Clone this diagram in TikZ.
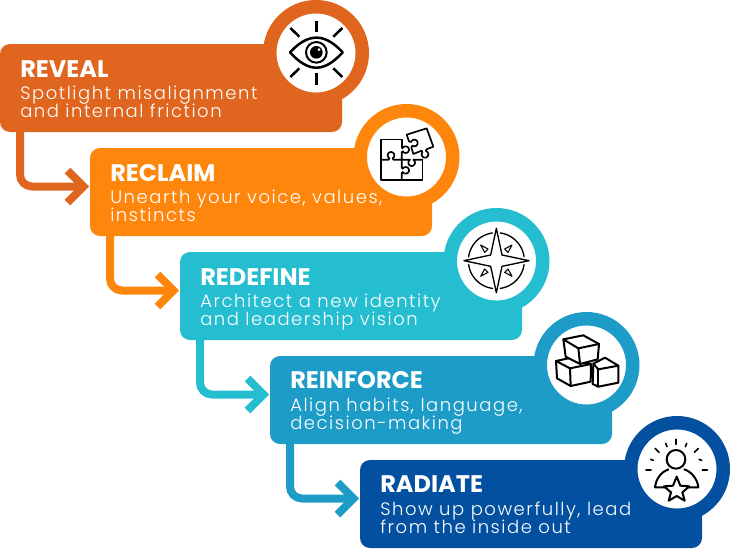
\documentclass[tikz,border=0pt]{standalone}
\usepackage{fontspec}
\usetikzlibrary{arrows.meta}
\setmainfont{Poppins}
\newfontfamily\bodyf[LetterSpace=8.5]{Poppins Light}
\definecolor{c1}{HTML}{E0651E}
\definecolor{c2}{HTML}{FF860D}
\definecolor{c3}{HTML}{25BDD0}
\definecolor{c4}{HTML}{1D9CC8}
\definecolor{c5}{HTML}{0450A0}
\newcommand{\bodysetup}{\bodyf\fontsize{13.5pt}{13.4pt}\selectfont\setlength{\lineskiplimit}{-20pt}}
\tikzset{
  stepbox/.style={fill=#1,rounded corners=7.5pt,minimum width=256.5pt,minimum height=66pt,inner sep=0pt,outer sep=0pt,anchor=north west},
  ringnode/.style={circle,fill=white,draw=#1,line width=10.1pt,minimum size=69.4pt,inner sep=0pt,outer sep=0pt},
  titlenode/.style={anchor=base west,inner sep=0pt,text=white,font=\fontsize{18pt}{20pt}\bfseries},
  bodynode/.style={anchor=north west,inner sep=0pt,text=white,align=left,font=\bodysetup},
  flow/.style={draw=#1,line width=6pt,rounded corners=9pt},
  chev/.style={draw=#1,line width=6pt},
  icon/.style={draw=black,line width=1.5pt,line cap=round,line join=round},
  eyeicon/.style={draw=black,line width=1.9pt,line cap=butt,line join=round},
  puzzle/.style={draw=black,line width=1.25pt,line cap=round,line join=round},
  thinicon/.style={draw=black,line width=1pt,line cap=round,line join=round},
  zoomed/.style={shift={(#1)},x=.25pt,y=-.25pt},
  knob/.style={samples=16,smooth}
}
\begin{document}
\begin{tikzpicture}[x=.75pt,y=-.75pt]
\useasboundingbox (0,0) rectangle (730,550);
% boxes
\node[stepbox=c1] (b1) at (0,44) {};
\node[stepbox=c2] (b2) at (90,148) {};
\node[stepbox=c3] (b3) at (180,252) {};
\node[stepbox=c4] (b4) at (270,356) {};
\node[stepbox=c5] (b5) at (360,460) {};
% connectors
\coordinate (a1s) at (20,131);\coordinate (a1e) at (83.5,186.5);
\coordinate (a2s) at (110,235);\coordinate (a2e) at (173.5,290.5);
\coordinate (a3s) at (200,339);\coordinate (a3e) at (263.5,394.5);
\coordinate (a4s) at (290,443);\coordinate (a4e) at (353.5,498.5);
\foreach \s/\e/\c in {a1s/a1e/c1,a2s/a2e/c2,a3s/a3e/c3,a4s/a4e/c4}{
  \draw[flow=\c] (\s) |- (\e);
  \draw[chev=\c] ([shift={(-12pt,-12pt)}]\e) -- (\e) -- ([shift={(-12pt,12pt)}]\e);
}
% rings
\node[ringnode=c1] (r1) at (316,53) {};
\node[ringnode=c2] (r2) at (406.5,157) {};
\node[ringnode=c3] (r3) at (496.5,261) {};
\node[ringnode=c4] (r4) at (586.5,365) {};
\node[ringnode=c5] (r5) at (677,469) {};
% text
\node[titlenode] (t1) at (20,77) {REVEAL};
\node[bodynode] (d1) at (20,86) {Spotlight misalignment\\and internal friction};
\node[titlenode] (t2) at (110,181) {RECLAIM};
\node[bodynode] (d2) at (110,190) {Unearth your voice, values,\\instincts};
\node[titlenode] (t3) at (200,285) {REDEFINE};
\node[bodynode] (d3) at (200,294) {Architect a new identity\\and leadership vision};
\node[titlenode] (t4) at (290,388) {REINFORCE};
\node[bodynode] (d4) at (290,398) {Align habits, language,\\decision-making};
\node[titlenode] (t5) at (380,492) {RADIATE};
\node[bodynode] (d5) at (380,502) {Show up powerfully, lead\\from the inside out};
% eye
\begin{scope}[zoomed={250,0}]
  \draw[eyeicon] (120,157) .. controls (150,125) and (175,113) .. (199,113) .. controls (223,113) and (248,125) .. (278,157) .. controls (248,190) and (223,203) .. (199,203) .. controls (175,203) and (150,190) .. (120,157) -- cycle;
  \draw[eyeicon,line width=1.5pt] (199,157) circle (31);
  \fill (199,157) circle (19);
  \fill[white] (207,149) circle (4.5);
  \foreach \a/\b/\c/\d in {199/63/199/97,199/218/199/254,121/84/148/110,277/84/250/110,121/231/148/205,277/231/250/205}
    \draw[eyeicon] (\a,\b) -- (\c,\d);
\end{scope}
% puzzle
\begin{scope}[zoomed={375,122}]
  \draw[puzzle] (80,78) -- (80,52) -- (18,52) -- (18,173) -- (142,173) -- (142,113);
  \draw[puzzle] (80,75) -- plot[knob,domain=-150:150] ({92+10*cos(\x)},{83+10*sin(\x)}) -- (80,91) -- (80,137) -- plot[knob,domain=-150:150] ({92+10*cos(\x)},{145+10*sin(\x)}) -- (80,153) -- (80,173);
  \draw[puzzle] (18,113) -- (41,113) -- plot[knob,domain=120:420] ({48+10*cos(\x)},{100+10*sin(\x)}) -- (55,113) -- (103,113) -- plot[knob,domain=240:-60] ({110+10*cos(\x)},{122+10*sin(\x)}) -- (117,113) -- (142,113);
  \draw[puzzle] (115,96) -- (109,76) -- plot[knob,domain=126:-164] ({118+10*cos(\x)},{63+10*sin(\x)}) -- (102,58) -- (95,38) -- (155,19) -- (175,74) -- (155,81.5) -- plot[knob,domain=-75:215] ({150+10*cos(\x)},{97+10*sin(\x)}) -- (140,86) -- (115,96);
\end{scope}
% compass
\begin{scope}[zoomed={430,210}]
  \foreach \t in {0,90,180,270}{
    \pgfmathsetmacro{\ta}{\t+8}
    \pgfmathsetmacro{\tb}{\t+82}
    \draw[thinicon] plot[samples=20,smooth,domain=\ta:\tb] ({199+84*cos(\x)},{152+84*sin(\x)});
    \begin{scope}[shift={(199,152)},rotate=\t]
      \draw[thinicon,line width=.8pt] (47,-47) -- (35,-25) -- (25,-35) -- cycle;
    \end{scope}
  }
  \draw[thinicon,fill=white] (199,55) -- (216,135) -- (297,152) -- (216,169) -- (199,248) -- (182,169) -- (102,152) -- (182,135) -- cycle;
\end{scope}
% cubes
\begin{scope}[zoomed={430,210}]
  \draw[icon] (378,453) -- (415,445) -- (483,462) -- (420,475) -- cycle;
  \draw[icon] (378,453) -- (381,505) -- (422,528) -- (482,515) -- (483,462);
  \draw[icon] (420,475) -- (422,528);
  \draw[icon] (490,461) -- (525,443) -- (565,467) -- (565,518) -- (505,530) -- (488,522) -- cycle;
  \draw[icon] (490,461) -- (505,478) -- (565,467);
  \draw[icon] (505,478) -- (505,530);
  \draw[icon,fill=white] (400,388) -- (460,376) -- (507,402) -- (503,448) -- (450,462) -- (407,440) -- cycle;
  \draw[icon] (400,388) -- (445,415) -- (507,402);
  \draw[icon] (445,415) -- (450,462);
\end{scope}
% person with star
\begin{scope}[zoomed={620,410}]
  \draw[icon] (168,148) circle (28);
  \draw[icon] (145,178) .. controls (125,185) and (108,205) .. (105,232) -- (135,232);
  \draw[icon] (193,178) .. controls (213,185) and (232,205) .. (235,232) -- (205,232);
  \draw[icon,fill=white] (170,200) -- (181,227) -- (208,229) -- (187,247) -- (194,272) -- (170,258) -- (146,272) -- (153,247) -- (132,229) -- (159,227) -- cycle;
  \foreach \a/\b/\c/\d in {168/88/168/103,137/100/141/110,200/100/196/110,105/115/117/127,235/115/223/127,92/148/100/151,245/151/237/148,78/180/93/180,247/180/262/180}
    \draw[icon,line width=1.2pt] (\a,\b) -- (\c,\d);
\end{scope}
\end{tikzpicture}
\end{document}
